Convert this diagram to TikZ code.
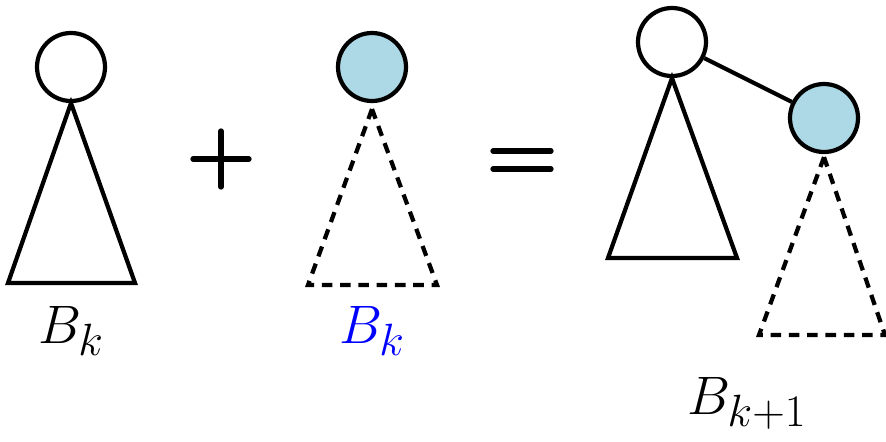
\documentclass[tikz,border=0pt]{standalone}
\usetikzlibrary{positioning}
\definecolor{rootblue}{RGB}{173,216,230}

\begin{document}
\begin{tikzpicture}[
  very thick,
  root/.style={draw,circle,minimum size=0.68cm,inner sep=0pt,fill=white},
  broot/.style={root,fill=rootblue},
  dtree/.style={dash pattern=on 3pt off 2.2pt},
  sign/.style={line width=1.5pt,line cap=round},
  lbl/.style={font=\Huge,scale=0.62,anchor=base}
]
\useasboundingbox (0,0) rectangle (8.86,4.41);

% B_k
\node[root] (a) at (0.71,3.74) {};
\draw (a.south) -- (0.08,1.58) -- (1.35,1.58) -- cycle;
\node[lbl] (la) at (0.71,0.98) {$B_k$};

% plus
\draw[sign] (1.93,2.82) -- (2.49,2.82);
\draw[sign] (2.21,2.54) -- (2.21,3.10);

% blue B_k
\node[broot] (b) at (3.72,3.74) {};
\draw[dtree] ([yshift=-0.06cm]b.south) -- (3.08,1.56) -- (4.37,1.56) -- cycle;
\node[lbl,text=blue] (lb) at (3.72,0.98) {$B_k$};

% equals
\draw[sign] (4.93,2.90) -- (5.51,2.90);
\draw[sign] (4.93,2.72) -- (5.51,2.72);

% B_{k+1}
\node[root] (c) at (6.72,3.99) {};
\node[broot] (d) at (8.24,3.23) {};
\draw (c) -- (d);
\draw (c.south) -- (6.08,1.83) -- (7.37,1.83) -- cycle;
\draw[dtree] ([yshift=-0.03cm]d.south) -- (7.59,1.06) -- (8.85,1.06) -- cycle;
\node[lbl] (lc) at (7.47,0.27) {$B_{k+1}$};
\end{tikzpicture}
\end{document}
